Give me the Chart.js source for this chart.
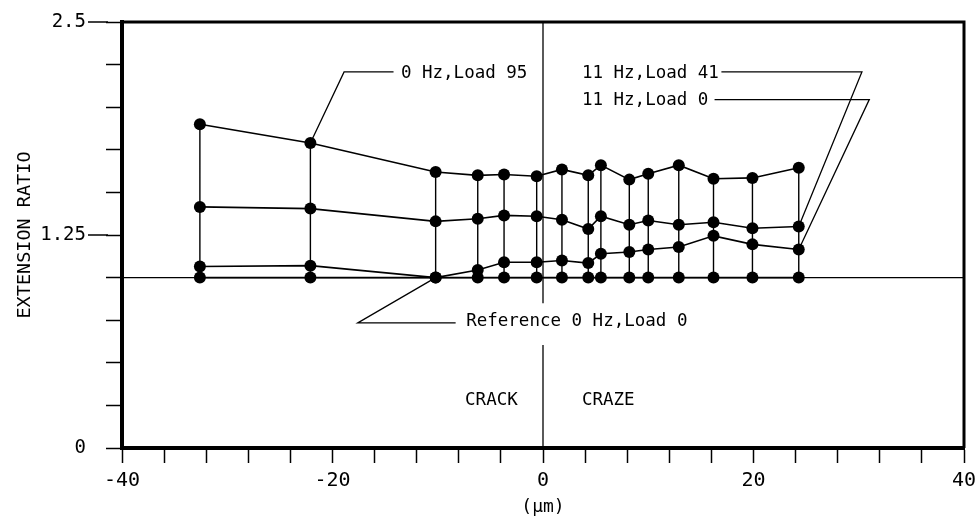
<!DOCTYPE html>
<html>
<head>
<meta charset="utf-8">
<script src="https://cdn.jsdelivr.net/npm/chart.js@4.4.1/dist/chart.umd.min.js"></script>
<style>
  html, body { margin: 0; padding: 0; background: #fff; }
</style>
</head>
<body>
<canvas id="chart" width="977" height="518"></canvas>
<script>
// positions along the crack/craze (um)
const posUm = [-32.6, -22.1, -10.2, -6.2, -3.7, -0.6, 1.8, 4.3, 5.5, 8.2, 10.0, 12.9, 16.2, 19.9, 24.3];
const hz0Load95 = [1.90, 1.79, 1.62, 1.60, 1.605, 1.595, 1.635, 1.60, 1.66, 1.575, 1.61, 1.66, 1.58, 1.585, 1.645];
const hz11Load41 = [1.415, 1.405, 1.33, 1.345, 1.365, 1.36, 1.34, 1.285, 1.36, 1.31, 1.335, 1.31, 1.325, 1.29, 1.30];
const hz11Load0 = [1.065, 1.07, 1.0, 1.045, 1.09, 1.09, 1.10, 1.085, 1.14, 1.15, 1.165, 1.18, 1.245, 1.195, 1.165];
const refHz0Load0 = [1.0, 1.0, 1.0, 1.0, 1.0, 1.0, 1.0, 1.0, 1.0, 1.0, 1.0, 1.0, 1.0, 1.0, 1.0];
const xTickLabels = [-40, -20, 0, 20, 40];
const yTickLabels = [0, 1.25, 2.5];

const FONT = 'DejaVu Sans Mono';
const last = posUm.length - 1;

// annotation texts and leader lines, in data units
const notes = [
  { text: '0 Hz,Load 95', x: -13.5, y: 2.20, align: 'left' },
  { text: '11 Hz,Load 41', x: 3.7, y: 2.20, align: 'left' },
  { text: '11 Hz,Load 0', x: 3.7, y: 2.042, align: 'left' },
  { text: 'Reference 0 Hz,Load 0', x: -7.3, y: 0.74, align: 'left' },
  { text: 'CRACK', x: -4.9, y: 0.28, align: 'center' },
  { text: 'CRAZE', x: 6.2, y: 0.28, align: 'center' }
];
const leaders = [
  [[posUm[1], hz0Load95[1]], [-18.9, 2.207], [-14.2, 2.207]],
  [[16.95, 2.207], [30.3, 2.207], [posUm[last], hz11Load41[last]]],
  [[16.3, 2.045], [31.0, 2.045], [posUm[last], hz11Load0[last]]],
  [[posUm[2], refHz0Load0[2]], [-17.6, 0.734], [-8.3, 0.734]],
  [[0, 2.5], [0, 0.85]],
  [[0, 0.605], [0, 0]]
];

function pts(ys) {
  return posUm.map((x, i) => ({ x: x, y: ys[i] }));
}

// vertical ties between the curves at every position
const ties = [];
posUm.forEach((x, i) => {
  ties.push({ x: x, y: hz0Load95[i] });
  ties.push({ x: x, y: refHz0Load0[i] });
  ties.push({ x: x, y: null });
});

function series(label, ys) {
  return {
    label: label,
    data: pts(ys),
    borderColor: '#000',
    backgroundColor: '#000',
    borderWidth: 1.6,
    pointRadius: 6,
    pointBorderWidth: 0,
    tension: 0
  };
}

const decor = {
  id: 'decor',
  afterDatasetsDraw(chart) {
    const ctx = chart.ctx;
    const xs = chart.scales.x, ys = chart.scales.y;
    const a = chart.chartArea;
    ctx.save();
    ctx.strokeStyle = '#000';
    ctx.fillStyle = '#000';

    // reference level across the whole frame
    ctx.lineWidth = 1.4;
    ctx.beginPath();
    ctx.moveTo(a.left, ys.getPixelForValue(1));
    ctx.lineTo(a.right, ys.getPixelForValue(1));
    ctx.stroke();

    // frame top and right
    ctx.lineWidth = 3;
    ctx.beginPath();
    ctx.moveTo(a.left, a.top);
    ctx.lineTo(a.right, a.top);
    ctx.lineTo(a.right, a.bottom);
    ctx.stroke();

    // longer ticks at labelled values
    ctx.lineWidth = 1.5;
    [1.25, 2.5].forEach(v => {
      const py = ys.getPixelForValue(v);
      ctx.beginPath();
      ctx.moveTo(a.left - 34, py);
      ctx.lineTo(a.left - 14, py);
      ctx.stroke();
    });

    ctx.lineWidth = 1.3;
    leaders.forEach(l => {
      ctx.beginPath();
      l.forEach((p, i) => {
        const px = xs.getPixelForValue(p[0]), py = ys.getPixelForValue(p[1]);
        if (i === 0) ctx.moveTo(px, py); else ctx.lineTo(px, py);
      });
      ctx.stroke();
    });

    ctx.font = '17.5px "' + FONT + '"';
    ctx.textBaseline = 'middle';
    notes.forEach(n => {
      ctx.textAlign = n.align;
      ctx.fillText(n.text, xs.getPixelForValue(n.x), ys.getPixelForValue(n.y));
    });
    ctx.restore();
  }
};

new Chart(document.getElementById('chart'), {
  type: 'line',
  data: {
    datasets: [
      series('0 Hz, Load 95', hz0Load95),
      series('11 Hz, Load 41', hz11Load41),
      series('11 Hz, Load 0', hz11Load0),
      series('Reference 0 Hz, Load 0', refHz0Load0),
      {
        label: 'ties',
        data: ties,
        borderColor: '#000',
        borderWidth: 1.4,
        pointRadius: 0,
        spanGaps: false
      }
    ]
  },
  options: {
    responsive: false,
    animation: false,
    layout: { padding: { left: 0, right: 13, top: 22, bottom: 0 } },
    plugins: {
      legend: { display: false },
      tooltip: { enabled: false }
    },
    scales: {
      x: {
        type: 'linear',
        min: -40,
        max: 40,
        afterFit: s => { s.height = 70; s.paddingLeft = 0; s.paddingRight = 0; },
        border: { display: true, color: '#000', width: 4 },
        grid: { drawOnChartArea: false, drawTicks: true, tickLength: 15, tickColor: '#000', tickWidth: 1.5 },
        ticks: {
          stepSize: 4,
          autoSkip: false,
          maxRotation: 0,
          padding: 6,
          color: '#000',
          font: { family: FONT, size: 20 },
          callback: v => xTickLabels.includes(v) ? String(v) : ''
        },
        title: {
          display: true,
          text: '(µm)',
          color: '#000',
          font: { family: FONT, size: 18 },
          padding: { top: 0, bottom: 0 }
        }
      },
      y: {
        type: 'linear',
        min: 0,
        max: 2.5,
        afterFit: s => { s.width = 122; s.paddingTop = 0; s.paddingBottom = 0; },
        border: { display: true, color: '#000', width: 4 },
        grid: { drawOnChartArea: false, drawTicks: true, tickLength: 16, tickColor: '#000', tickWidth: 1.5 },
        ticks: {
          stepSize: 0.25,
          autoSkip: false,
          padding: 20,
          color: '#000',
          font: { family: FONT, size: 19 },
          callback: v => yTickLabels.includes(v) ? String(v) : ''
        },
        title: {
          display: true,
          text: 'EXTENSION RATIO',
          color: '#000',
          font: { family: FONT, size: 18.5 },
          padding: { top: 14, bottom: 0 }
        }
      }
    }
  },
  plugins: [decor]
});
</script>
</body>
</html>
